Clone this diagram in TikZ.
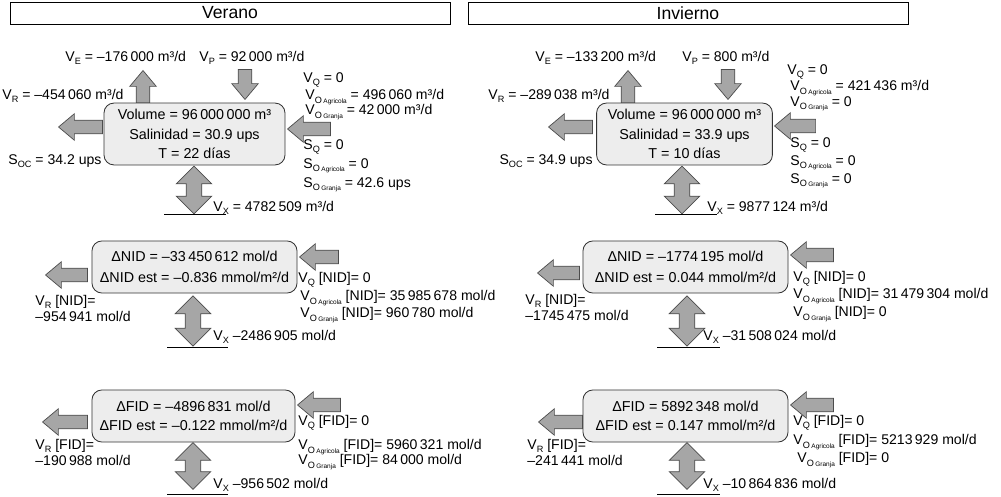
\documentclass[tikz,border=0pt]{standalone}
\usepackage{fontspec}
\setmainfont{Liberation Sans}
\usetikzlibrary{shapes.arrows}
\definecolor{arrgray}{HTML}{A6A6A6}
\definecolor{boxgray}{HTML}{EDEDED}
\newcommand{\sbs}[1]{\raisebox{-0.45ex}{\fontsize{6.5}{7}\selectfont #1}}
\newcommand{\sbo}[1]{\raisebox{-0.45ex}{\fontsize{6.5}{7}\selectfont O\,{\fontsize{4.6}{5}\selectfont #1}}}
\begin{document}
\begin{tikzpicture}[x=0.025cm, y=-0.025cm, line width=0.6pt,
  lbl/.style={inner sep=0pt, anchor=west, font=\fontsize{10}{11.4}\selectfont},
  hdr/.style={draw, fill=white, minimum width=313pt, minimum height=15.6pt, inner sep=0pt, font=\fontsize{12.5}{14}\selectfont},
  pool/.style={draw=black!80, fill=boxgray, rounded corners=7pt, align=center, inner sep=0pt, font=\fontsize{10.2}{13.9}\selectfont},
  flow/.style={single arrow, draw=black!70, fill=arrgray, inner sep=4.6pt, single arrow head extend=4.6pt, single arrow tip angle=80, line width=0.5pt},
  mix/.style={double arrow, draw=black!70, fill=arrgray, inner sep=5.3pt, double arrow head extend=7.1pt, double arrow tip angle=90, minimum height=34.1pt, rotate=90, line width=0.5pt}]
  \useasboundingbox (0,0) rectangle (1001,497);
  \node[hdr] (verano) at (230,13) {Verano};
  \node[hdr] (invierno) at (688,13) {Invierno};

  \node[pool, minimum width=128.7pt, minimum height=44pt] (volV) at (194.5,134) {Volume = 96\,000\,000 m³\\Salinidad = 30.9 ups\\T = 22 días};
  \node[flow, rotate=90, anchor=tip, minimum height=22.8pt] (evV) at (143,70) {};
  \node[flow, rotate=-90, anchor=tip, minimum height=21.3pt] (prV) at (245,100) {};
  \node[flow, rotate=180, anchor=tip, minimum height=31.3pt] (reV) at (58,127) {};
  \node[flow, rotate=180, anchor=tip, minimum height=30.6pt] (inV) at (287,129) {};
  \node[mix] (exV) at (194,190) {};
  \draw (164,214) -- (226,214);
  \node[lbl] (veV) at (65,58) {V\sbs{E} = –176\,000 m³/d};
  \node[lbl] (vpV) at (199,58) {V\sbs{P} = 92\,000 m³/d};
  \node[lbl] (vrV) at (2,96) {V\sbs{R} = –454\,060 m³/d};
  \node[lbl] (socV) at (8,161) {S\sbs{OC} = 34.2 ups};
  \node[lbl] (vqV) at (303,80) {V\sbs{Q} = 0};
  \node[lbl] (voaV) at (305,97) {V\sbo{Agricola} = 496\,060 m³/d};
  \node[lbl] (vogV) at (305,112) {V\sbo{Granja} = 42\,000 m³/d};
  \node[lbl] (sqV) at (303,147) {S\sbs{Q} = 0};
  \node[lbl] (soaV) at (303,166) {S\sbo{Agricola} = 0};
  \node[lbl] (sogV) at (303,185) {S\sbo{Granja} = 42.6 ups};
  \node[lbl] (vxV) at (213,208) {V\sbs{X} = 4782\,509 m³/d};

  \node[pool, minimum width=125pt, minimum height=44pt] (volI) at (684.5,134) {Volume = 96\,000\,000 m³\\Salinidad = 33.9 ups\\T = 10 días};
  \node[flow, rotate=90, anchor=tip, minimum height=22.8pt] (evI) at (628,70) {};
  \node[flow, rotate=-90, anchor=tip, minimum height=21.3pt] (prI) at (728,100) {};
  \node[flow, rotate=180, anchor=tip, minimum height=31.3pt] (reI) at (548,127) {};
  \node[flow, rotate=180, anchor=tip, minimum height=29.2pt] (inI) at (774,126) {};
  \node[mix] (exI) at (682,190) {};
  \draw (655,214) -- (717,214);
  \node[lbl] (veI) at (535,58) {V\sbs{E} = –133\,200 m³/d};
  \node[lbl] (vpI) at (682,58) {V\sbs{P} = 800 m³/d};
  \node[lbl, anchor=east] (vrI) at (610,96) {V\sbs{R} = –289\,038 m³/d};
  \node[lbl, anchor=east] (socI) at (593,161) {S\sbs{OC} = 34.9 ups};
  \node[lbl] (vqI) at (787,72) {V\sbs{Q} = 0};
  \node[lbl] (voaI) at (790,88) {V\sbo{Agricola} = 421\,436 m³/d};
  \node[lbl] (vogI) at (790,104) {V\sbo{Granja} = 0};
  \node[lbl] (sqI) at (790,145) {S\sbs{Q} = 0};
  \node[lbl] (soaI) at (790,163) {S\sbo{Agricola} = 0};
  \node[lbl] (sogI) at (790,181) {S\sbo{Granja} = 0};
  \node[lbl] (vxI) at (707,208) {V\sbs{X} = 9877\,124 m³/d};

  \node[pool, minimum width=145.8pt, minimum height=37pt, font=\fontsize{10.2}{15}\selectfont] (nidV) at (194.5,267) {ΔNID = –33\,450\,612 mol/d\\ΔNID est = –0.836 mmol/m²/d};
  \node[flow, rotate=180, anchor=tip, minimum height=29.9pt] (nreV) at (45,275) {};
  \node[flow, rotate=180, anchor=tip, minimum height=27.7pt] (ninV) at (299,257) {};
  \node[mix, minimum height=35.6pt] (nexV) at (193,321) {};
  \draw (167,347) -- (228,347);
  \node[lbl, align=left] (nvrV) at (35,308) {V\sbs{R} [NID]=\\–954\,941 mol/d};
  \node[lbl] (nvqV) at (298,280) {V\sbs{Q} [NID]= 0};
  \node[lbl] (nvoaV) at (300,298) {V\sbo{Agricola} [NID]= 35\,985\,678 mol/d};
  \node[lbl] (nvogV) at (300,315) {V\sbo{Granja} [NID]= 960\,780 mol/d};
  \node[lbl] (nvxV) at (213,337) {V\sbs{X} –2486\,905 mol/d};

  \node[pool, minimum width=145.8pt, minimum height=37pt, font=\fontsize{10.2}{15}\selectfont] (nidI) at (685.5,267) {ΔNID = –1774\,195 mol/d\\ΔNID est = 0.044 mmol/m²/d};
  \node[flow, rotate=180, anchor=tip, minimum height=29.9pt] (nreI) at (537,273) {};
  \node[flow, rotate=180, anchor=tip, minimum height=30.6pt] (ninI) at (790,255) {};
  \node[mix, minimum height=35.6pt] (nexI) at (687,321) {};
  \draw (657,347) -- (720,347);
  \node[lbl, align=left] (nvrI) at (525,307) {V\sbs{R} [NID]=\\–1745\,475 mol/d};
  \node[lbl] (nvqI) at (793,279) {V\sbs{Q} [NID]= 0};
  \node[lbl] (nvoaI) at (793,296) {V\sbo{Agricola} [NID]= 31\,479\,304 mol/d};
  \node[lbl] (nvogI) at (793,314) {V\sbo{Granja} [NID]= 0};
  \node[lbl] (nvxI) at (703,337) {V\sbs{X} –31\,508\,024 mol/d};

  \node[pool, minimum width=144.4pt, minimum height=37pt, font=\fontsize{10.2}{13}\selectfont] (fidV) at (193.5,416) {ΔFID = –4896\,831 mol/d\\ΔFID est = –0.122 mmol/m²/d};
  \node[flow, rotate=180, anchor=tip, minimum height=32pt] (freV) at (42,422) {};
  \node[flow, rotate=180, anchor=tip, minimum height=30.6pt] (finV) at (297,405) {};
  \node[mix, minimum height=33.4pt] (fexV) at (193,466) {};
  \draw (167,494) -- (228,494);
  \node[lbl, align=left] (fvrV) at (35,452) {V\sbs{R} [FID]=\\–190\,988 mol/d};
  \node[lbl] (fvqV) at (298,423) {V\sbs{Q} [FID]= 0};
  \node[lbl] (fvoaV) at (298,447) {V\sbo{Agricola} [FID]= 5960\,321 mol/d};
  \node[lbl] (fvogV) at (298,462) {V\sbo{Granja} [FID]= 84\,000 mol/d};
  \node[lbl] (fvxV) at (213,485) {V\sbs{X} –956\,502 mol/d};

  \node[pool, minimum width=145.8pt, minimum height=37pt, font=\fontsize{10.2}{13}\selectfont] (fidI) at (685.5,416) {ΔFID = 5892\,348 mol/d\\ΔFID est = 0.147 mmol/m²/d};
  \node[flow, rotate=180, anchor=tip, minimum height=31.3pt] (freI) at (538,422) {};
  \node[flow, rotate=180, anchor=tip, minimum height=30.6pt] (finI) at (790,405) {};
  \node[mix, minimum height=33.4pt] (fexI) at (687,466) {};
  \draw (657,494) -- (720,494);
  \node[lbl, align=left] (fvrI) at (527,452) {V\sbs{R} [FID]=\\–241\,441 mol/d};
  \node[lbl] (fvqI) at (793,423) {V\sbs{Q} [FID]= 0};
  \node[lbl] (fvoaI) at (793,442) {V\sbo{Agricola} [FID]= 5213\,929 mol/d};
  \node[lbl] (fvogI) at (797,460) {V\sbo{Granja} [FID]= 0};
  \node[lbl] (fvxI) at (703,485) {V\sbs{X} –10\,864\,836 mol/d};
\end{tikzpicture}
\end{document}
